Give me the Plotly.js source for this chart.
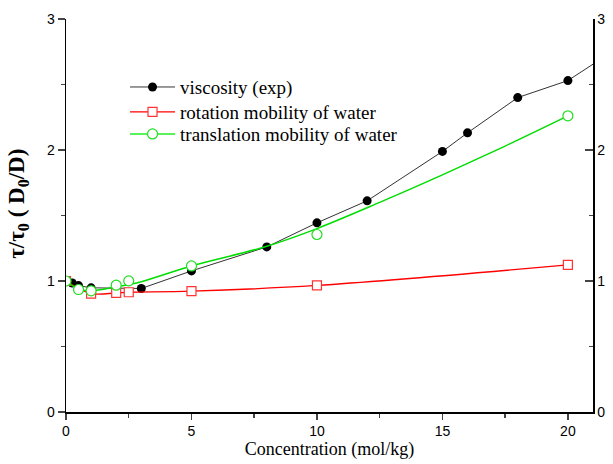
<!DOCTYPE html>
<html>
<head>
<meta charset="utf-8">
<script src="https://cdn.plot.ly/plotly-3.0.1.min.js"></script>
<style>html,body{margin:0;padding:0;background:#fff;}</style>
</head>
<body>
<div id="chart" style="width:613px;height:464px;"></div>
<script>
// Viscosity (experimental)
const viscX = [0, 0.25, 0.5, 1, 3, 5, 8, 10, 12, 15, 16, 18, 20, 22];
const viscY = [1.0, 0.985, 0.965, 0.948, 0.943, 1.077, 1.26, 1.444, 1.612, 1.989, 2.131, 2.40, 2.53, 2.78];
// Rotation mobility of water
const rotX = [0, 1, 2, 2.5, 5, 10, 20];
const rotY = [1.0, 0.904, 0.909, 0.914, 0.922, 0.966, 1.123];
// Translation mobility of water (measured points)
const transX = [0, 0.5, 1, 2, 2.5, 5, 10, 20];
const transY = [1.0, 0.935, 0.925, 0.968, 1.001, 1.115, 1.355, 2.261];
// Translation mobility fit curve
const transFitX = [0, 0.5, 1, 2, 3, 5, 8, 10, 12.5, 15, 17.5, 20];
const transFitY = [1.0, 0.94, 0.925, 0.955, 0.995, 1.115, 1.265, 1.40, 1.60, 1.81, 2.03, 2.26];

const names = ['viscosity (exp)', 'rotation mobility of water', 'translation mobility of water'];
const xTicks = [0, 5, 10, 15, 20];
const yTicks = [0, 1, 2, 3];
const xTitle = 'Concentration (mol/kg)';
const yTitle = '<b>τ/τ<sub>0</sub> ( D<sub>0</sub>/D)</b>';

const tickFont = {family: 'Liberation Sans', size: 14, color: '#000'};
const serif = 'Liberation Serif';

const traces = [
  {x: viscX, y: viscY, mode: 'lines+markers', name: names[0], legend: 'legend',
   line: {color: '#333', width: 1},
   marker: {symbol: 'circle', size: 9, color: '#000'}},
  {x: rotX, y: rotY, mode: 'lines+markers', name: names[1], yaxis: 'y2', legend: 'legend2',
   line: {color: '#ff0000', width: 1.3, shape: 'spline'},
   marker: {symbol: 'square', size: 9, color: '#fff', line: {color: '#ff3333', width: 1.2}}},
  {x: transFitX, y: transFitY, mode: 'lines', showlegend: false, yaxis: 'y2',
   line: {color: '#00dd00', width: 1.5, shape: 'spline'}},
  {x: transX, y: transY, mode: 'markers', showlegend: false, yaxis: 'y2',
   marker: {symbol: 'circle', size: 10, color: '#fff', line: {color: '#22dd22', width: 1.2}}},
  {x: [null], y: [null], mode: 'lines+markers', name: names[2], yaxis: 'y2', legend: 'legend3',
   line: {color: '#22ee22', width: 1.5},
   marker: {symbol: 'circle', size: 10, color: '#fff', line: {color: '#22dd22', width: 1.2}}}
];

function leg(y) {
  return {x: 0.112, y: y, xanchor: 'left', yanchor: 'top',
    bgcolor: 'rgba(0,0,0,0)', font: {family: serif, size: 19, color: '#000'},
    itemwidth: 45, tracegroupgap: 0};
}

const layout = {
  width: 613, height: 464,
  margin: {l: 66, r: 20, t: 19, b: 52},
  paper_bgcolor: '#fff', plot_bgcolor: '#fff',
  showlegend: true,
  legend: leg(0.875),
  legend2: leg(0.8116),
  legend3: leg(0.7555),
  annotations: [{text: yTitle, textangle: -90, xref: 'paper', yref: 'paper',
    x: -0.091, y: 0.53, xanchor: 'center', yanchor: 'middle', showarrow: false,
    font: {family: serif, size: 23, color: '#000'}}],
  xaxis: {range: [0, 21], tickvals: xTicks, ticks: 'outside', ticklen: 6, tickwidth: 1.5,
    showline: true, linewidth: 1.5, linecolor: '#000', zeroline: false, showgrid: false,
    tickfont: tickFont,
    minor: {dtick: 2.5, tick0: 0, ticks: 'outside', ticklen: 4, tickwidth: 1.5, showgrid: false},
    title: {text: xTitle, font: {family: serif, size: 18, color: '#000'}, standoff: 4}},
  yaxis: {range: [0, 3], tickvals: yTicks, ticks: 'outside', ticklen: 7, tickwidth: 1.5,
    showline: true, linewidth: 1.5, linecolor: '#000', zeroline: false, showgrid: false,
    tickfont: tickFont,
    minor: {dtick: 0.5, tick0: 0, ticks: 'outside', ticklen: 4, tickwidth: 1.5, showgrid: false}},
  yaxis2: {range: [0, 3], overlaying: 'y', side: 'right', tickvals: yTicks, ticks: 'inside', ticklen: 8, tickwidth: 1.5,
    showline: true, linewidth: 1.5, linecolor: '#000', zeroline: false, showgrid: false,
    tickfont: tickFont,
    minor: {dtick: 0.5, tick0: 0, ticks: 'inside', ticklen: 4, tickwidth: 1.5, showgrid: false}}
};

Plotly.newPlot('chart', traces, layout, {displayModeBar: false, staticPlot: true});
</script>
</body>
</html>
